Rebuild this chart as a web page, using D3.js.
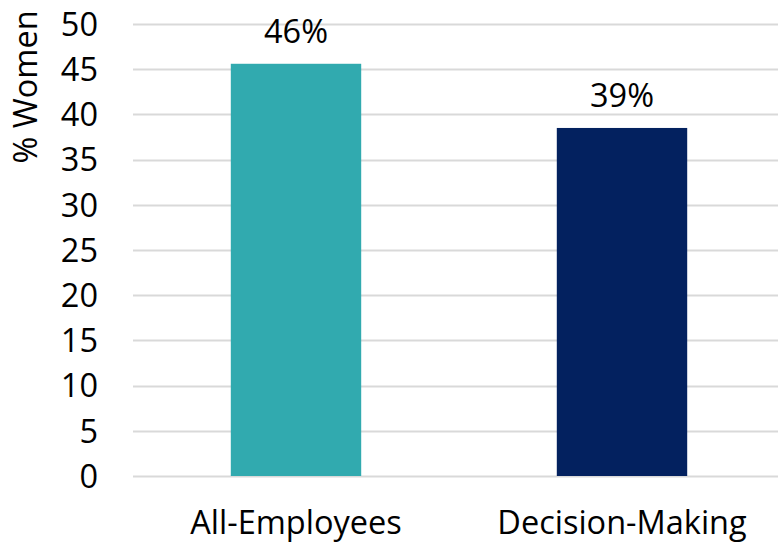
<!DOCTYPE html>
<html>
<head>
<meta charset="utf-8">
<script src="https://cdn.jsdelivr.net/npm/d3@7"></script>
<style>
  html, body { margin: 0; padding: 0; background: #fff; }
  svg text { font-family: "Open Sans", "Noto Sans", sans-serif; fill: #000; }
</style>
</head>
<body>
<svg id="chart" width="778" height="544"></svg>
<script>
// Share of women by group
const categories = ["All-Employees", "Decision-Making"];
const values = [45.6, 38.5];
const barColors = ["#31AAAF", "#03215F"];
const yTicks = [0, 5, 10, 15, 20, 25, 30, 35, 40, 45, 50];
const yTitle = "% Women";

const svg = d3.select("#chart");
const W = 778, H = 544;
const plot = { left: 133, right: 785, top: 24, bottom: 476 };
const fontSize = 32.5;

const x = d3.scaleBand()
  .domain(categories)
  .range([plot.left, plot.right])
  .paddingInner(0.6)
  .paddingOuter(0.3);

const y = d3.scaleLinear()
  .domain([0, 50])
  .range([plot.bottom, plot.top]);

// Horizontal gridlines
svg.append("g")
  .selectAll("line")
  .data(yTicks)
  .join("line")
  .attr("x1", plot.left)
  .attr("x2", W)
  .attr("y1", d => Math.round(y(d)) + 0.5)
  .attr("y2", d => Math.round(y(d)) + 0.5)
  .attr("stroke", "#d9d9d9")
  .attr("stroke-width", 2);

// Y axis tick labels
const yAxis = d3.axisLeft(y).tickValues(yTicks).tickSize(0).tickPadding(0);
const gy = svg.append("g")
  .attr("transform", `translate(98,0)`)
  .call(yAxis);
gy.select(".domain").remove();
gy.selectAll("text")
  .attr("font-size", fontSize)
  .attr("font-family", null)
  .attr("dy", "0.35em")
  .attr("fill", "#000");

// Bars
svg.append("g")
  .selectAll("rect")
  .data(categories)
  .join("rect")
  .attr("x", d => x(d))
  .attr("width", x.bandwidth())
  .attr("y", (d, i) => y(values[i]))
  .attr("height", (d, i) => y(0) - y(values[i]))
  .attr("fill", (d, i) => barColors[i]);

// Value labels above bars
const fmt = d3.format(".0f");
svg.append("g")
  .selectAll("text")
  .data(categories)
  .join("text")
  .attr("x", d => x(d) + x.bandwidth() / 2)
  .attr("y", (d, i) => y(values[i]) - 21)
  .attr("text-anchor", "middle")
  .attr("font-size", fontSize)
  .text((d, i) => fmt(values[i]) + "%");

// X axis category labels
const xAxis = d3.axisBottom(x).tickSize(0).tickPadding(0);
const gx = svg.append("g")
  .attr("transform", `translate(0,534)`)
  .call(xAxis);
gx.select(".domain").remove();
gx.selectAll("text")
  .attr("font-size", fontSize)
  .attr("font-family", null)
  .attr("dy", 0)
  .attr("y", 0)
  .attr("fill", "#000");

// Y axis title
svg.append("text")
  .attr("transform", `translate(37,87) rotate(-90)`)
  .attr("text-anchor", "middle")
  .attr("font-size", fontSize)
  .text(yTitle);
</script>
</body>
</html>
